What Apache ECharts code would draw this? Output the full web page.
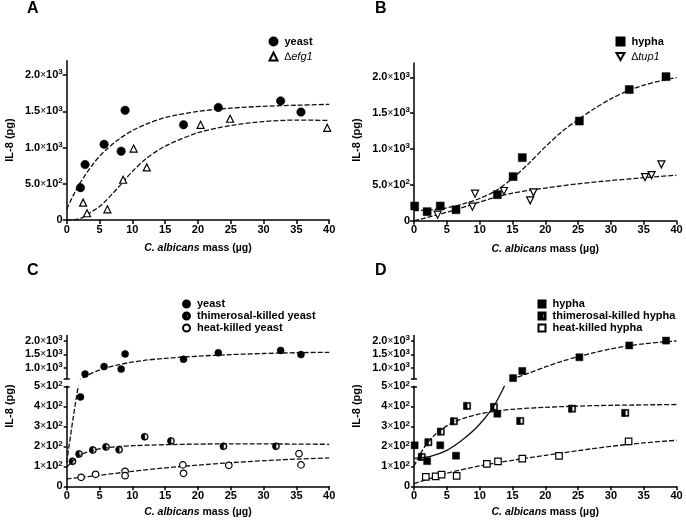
<!DOCTYPE html>
<html><head><meta charset="utf-8">
<script src="https://cdn.jsdelivr.net/npm/echarts@6/dist/echarts.min.js"></script>
<style>html,body{margin:0;padding:0;background:#fff}#c{width:686px;height:524px}</style>
</head><body><div id="c"></div>
<script>
// ---------------- data ----------------
const yTicksFull = [0, 500, 1000, 1500, 2000];
const yLabelsFull = ['0', '5.0×10^2', '1.0×10^3', '1.5×10^3', '2.0×10^3'];
const yTicksUpper = [1000, 1500, 2000];
const yLabelsUpper = ['1.0×10^3', '1.5×10^3', '2.0×10^3'];
const yTicksLower = [0, 100, 200, 300, 400, 500];
const yLabelsLower = ['0', '1×10^2', '2×10^2', '3×10^2', '4×10^2', '5×10^2'];

// Panel A / C : live yeast and ∆efg1
const yeastX = [2.1, 2.8, 5.7, 8.3, 8.9, 17.8, 23.1, 32.6, 35.7];
const yeastY = [447, 765, 1045, 950, 1515, 1315, 1555, 1645, 1490];
const efg1X = [2.5, 3.1, 6.2, 8.6, 10.2, 12.2, 20.4, 24.9, 39.7];
const efg1Y = [240, 93, 148, 556, 986, 727, 1315, 1398, 1273];

// Panel B / D : live hypha and ∆tup1
const hyphaX = [0.1, 2.0, 4.0, 6.4, 12.7, 15.1, 16.5, 25.2, 32.8, 38.4];
const hyphaY = [205, 126, 205, 153, 363, 615, 880, 1390, 1830, 2010];
const tup1X = [3.6, 8.9, 9.3, 13.7, 17.7, 18.2, 35.2, 36.2, 37.7];
const tup1Y = [84, 195, 377, 414, 284, 395, 609, 637, 786];

// Panel C : killed yeast
const tkYeastX = [0.9, 1.9, 4.0, 6.0, 8.0, 11.9, 15.9, 23.9, 31.9];
const tkYeastY = [125, 162, 182, 197, 183, 248, 227, 200, 200];
const hkYeastX = [2.2, 4.4, 8.9, 8.9, 17.7, 17.8, 24.7, 35.4, 35.7];
const hkYeastY = [45, 60, 75, 53, 107, 65, 105, 163, 107];

// Panel D : killed hypha
const tkHyphaX = [1.2, 2.2, 4.1, 6.1, 8.1, 12.2, 16.2, 24.1, 32.2];
const tkHyphaY = [147, 220, 273, 325, 402, 397, 327, 388, 367];
const hkHyphaX = [1.8, 3.3, 4.2, 6.5, 11.1, 12.8, 16.5, 22.1, 32.7];
const hkHyphaY = [47, 50, 58, 52, 112, 125, 138, 152, 225];

// fitted curves
const fitX16 = [0, 1, 2, 3, 4, 5, 6, 8, 10, 12, 15, 20, 25, 30, 35, 40];
const yeastFitA = [150, 340, 505, 645, 770, 880, 970, 1120, 1235, 1320, 1415, 1500, 1545, 1570, 1585, 1597];
const efg1FitX = [0, 1, 2, 3, 4, 5, 6, 7, 8, 9, 10, 12, 15, 20, 25, 30, 35, 40];
const efg1Fit = [0, 3, 18, 65, 125, 185, 270, 365, 465, 570, 670, 840, 1020, 1205, 1305, 1360, 1380, 1375];
const hyphaFitX = [0, 2.5, 5, 7.5, 10, 12.5, 15, 17.5, 20, 22.5, 25, 27.5, 30, 32.5, 35, 37.5, 40];
const hyphaFit = [140, 150, 180, 235, 310, 420, 590, 800, 1030, 1240, 1410, 1565, 1700, 1810, 1890, 1950, 1995];
const tup1Fit = [0, 22, 45, 68, 92, 118, 145, 200, 260, 315, 385, 455, 515, 560, 600, 635];
const yeastFitC = [120, 345, 545, 700, 815, 910, 995, 1120, 1210, 1280, 1350, 1430, 1490, 1530, 1560, 1575];
const tkYeastFitX = [0, 1, 2, 3, 4, 5, 6, 8, 10, 15, 20, 25, 30, 35, 40];
const tkYeastFit = [95, 128, 156, 170, 180, 187, 192, 199, 203, 208, 211, 212, 212, 211, 210];
const fitX9 = [0, 5, 10, 15, 20, 25, 30, 35, 40];
const hkYeastFit = [37, 55, 75, 92, 106, 118, 128, 136, 142];
const tkHyphaFit = [100, 165, 215, 252, 280, 302, 320, 345, 362, 374, 385, 395, 401, 405, 407, 409];
const hkHyphaFit = [13, 65, 102, 130, 155, 178, 200, 217, 230];

// ---------------- helpers ----------------
const FONT = '"Liberation Sans", Arial, sans-serif';
const pairs = (xs, ys) => xs.map((x, i) => [x, ys[i]]);
function supLabel(s) {
  if (s.indexOf('^') < 0) return '{n|' + s + '}';
  const parts = s.split('^');
  const base = parts[0].split('×');
  return '{n|' + base[0] + '}{x|×}{n|10}{s|' + parts[1] + '}';
}
const labelRich = {
  n: {fontSize: 11, fontWeight: 'bold', fontFamily: FONT, color: '#000', lineHeight: 14},
  x: {fontSize: 10, fontWeight: 'normal', fontFamily: FONT, color: '#000', lineHeight: 14},
  s: {fontSize: 8, fontWeight: 'bold', fontFamily: FONT, color: '#000', verticalAlign: 'top', lineHeight: 8}
};
const axLine = {show: true, lineStyle: {color: '#000', width: 1.5}};

function xAxisFor(gi, show, gap) {
  return {
    type: 'value', gridIndex: gi, min: 0, max: 40, interval: 5, show: show,
    axisLine: axLine,
    axisTick: {show: true, length: 4, lineStyle: {color: '#000', width: 1.5}},
    axisLabel: {color: '#000', fontSize: 11, fontWeight: 'bold', fontFamily: FONT, margin: 4},
    splitLine: {show: false},
    name: '{i|C. albicans} mass (µg)', nameLocation: 'middle', nameGap: gap,
    nameTextStyle: {color: '#000', fontSize: 10.5, fontWeight: 'bold', fontFamily: FONT,
      rich: {i: {fontStyle: 'italic', fontWeight: 'bold', fontSize: 10.5, fontFamily: FONT, color: '#000'}}}
  };
}
function yAxisFor(gi, min, max, ticks, labels, tickVals, tickLen) {
  return {
    type: 'value', gridIndex: gi, min: min, max: max, position: 'left',
    axisLine: axLine,
    axisTick: {show: true, length: tickLen, customValues: tickVals, lineStyle: {color: '#000', width: 1.5}},
    axisLabel: {customValues: ticks, margin: 4, rich: labelRich,
      formatter: v => { const i = ticks.indexOf(v); return i >= 0 ? supLabel(labels[i]) : ''; }},
    splitLine: {show: false}
  };
}
function capAxis(gi, min, max, v) {
  return {
    type: 'value', gridIndex: gi, min: min, max: max, position: 'left',
    axisLine: {show: false}, axisLabel: {show: false}, splitLine: {show: false},
    axisTick: {show: true, inside: true, length: 3, customValues: [v], lineStyle: {color: '#000', width: 1.5}}
  };
}
function sc(name, gi, yi, xs, ys, symbol, size, open) {
  return {
    type: 'scatter', name: name, xAxisIndex: gi, yAxisIndex: yi, data: pairs(xs, ys),
    symbol: symbol, symbolSize: size, z: 5,
    itemStyle: open ? {color: '#fff', borderColor: '#000', borderWidth: 1.2, opacity: 1}
                    : {color: '#000', borderColor: '#000', borderWidth: 0.5, opacity: 1}
  };
}
function fit(name, gi, yi, xs, ys, solid) {
  return {
    type: 'line', name: name, xAxisIndex: gi, yAxisIndex: yi, data: pairs(xs, ys),
    symbol: 'none', smooth: 0.3, clip: true, z: 2,
    lineStyle: {color: '#111', width: 1.3, type: solid ? 'solid' : [5, 2]}
  };
}
const downTri = 'path://M0,0 L10,0 L5,8.66 Z';
const halfCircle = 'path://M5,0 A5,5 0 0,1 5,10 A5,5 0 0,1 5,0 Z M5,1.3 A3.7,3.7 0 0,0 5,8.7 A3.7,3.7 0 0,0 5,1.3 Z M5,10 A5,5 0 0,1 5,0 Z';
const halfSquare = 'path://M0,0 L10,0 L10,10 L0,10 Z M1.5,1.5 L1.5,8.5 L8.5,8.5 L8.5,1.5 Z M0,0 L5,0 L5,10 L0,10 Z';

const legendBase = (data, left, top, lh, icon) => ({
  data: data, left: left, top: top, orient: 'vertical', selectedMode: false,
  itemWidth: icon, itemHeight: icon, itemGap: 0, padding: 0,
  textStyle: {color: '#000', fontSize: 11, fontWeight: 'bold', fontFamily: FONT, lineHeight: lh, padding: [0, 0, 0, 2],
    rich: {i: {fontStyle: 'italic', fontWeight: 'normal', fontSize: 11, fontFamily: FONT, color: '#000'}}},
  formatter: n => n.charAt(0) === '∆' ? '{i|' + n + '}' : n
});

const L = {A: 66.7, B: 414};
const W = 262.5;

const option = {
  animation: false,
  backgroundColor: '#fff',
  title: [
    {text: 'A', left: 27, top: 1, padding: 0, textStyle: {fontSize: 16, fontWeight: 'bold', fontFamily: FONT, color: '#000'}},
    {text: 'B', left: 375, top: 1, padding: 0, textStyle: {fontSize: 16, fontWeight: 'bold', fontFamily: FONT, color: '#000'}},
    {text: 'C', left: 27, top: 263, padding: 0, textStyle: {fontSize: 16, fontWeight: 'bold', fontFamily: FONT, color: '#000'}},
    {text: 'D', left: 375, top: 263, padding: 0, textStyle: {fontSize: 16, fontWeight: 'bold', fontFamily: FONT, color: '#000'}}
  ],
  graphic: [
    {type: 'text', x: 10, y: 140, rotation: Math.PI / 2, style: {text: 'IL-8 (pg)', fill: '#000', font: 'bold 11px ' + FONT, align: 'center', verticalAlign: 'middle'}},
    {type: 'text', x: 357, y: 140, rotation: Math.PI / 2, style: {text: 'IL-8 (pg)', fill: '#000', font: 'bold 11px ' + FONT, align: 'center', verticalAlign: 'middle'}},
    {type: 'text', x: 10, y: 406, rotation: Math.PI / 2, style: {text: 'IL-8 (pg)', fill: '#000', font: 'bold 11px ' + FONT, align: 'center', verticalAlign: 'middle'}},
    {type: 'text', x: 357, y: 406, rotation: Math.PI / 2, style: {text: 'IL-8 (pg)', fill: '#000', font: 'bold 11px ' + FONT, align: 'center', verticalAlign: 'middle'}}
  ],
  legend: [
    legendBase(['yeast', '∆efg1'], 268.5, 34, 15, 8),
    legendBase(['hypha', '∆tup1'], 615.5, 34, 15, 8),
    legendBase(['yeast', 'thimerosal-killed yeast', 'heat-killed yeast'], 182, 298, 12, 7),
    legendBase(['hypha', 'thimerosal-killed hypha', 'heat-killed hypha'], 537.5, 298, 12, 7)
  ],
  grid: [
    {left: L.A, top: 60.7, width: W, height: 159.3, outerBoundsMode: 'none'},
    {left: L.B, top: 63, width: W, height: 157.7, outerBoundsMode: 'none'},
    {left: L.A, top: 335.5, width: W, height: 43, outerBoundsMode: 'none'},
    {left: L.A, top: 386.3, width: W, height: 100, outerBoundsMode: 'none'},
    {left: L.B, top: 335.5, width: W, height: 43, outerBoundsMode: 'none'},
    {left: L.B, top: 386.3, width: W, height: 100, outerBoundsMode: 'none'}
  ],
  xAxis: [xAxisFor(0, true, 23), xAxisFor(1, true, 23), xAxisFor(2, false, 20), xAxisFor(3, true, 20), xAxisFor(4, false, 20), xAxisFor(5, true, 20)],
  yAxis: [
    yAxisFor(0, 0, 2200, yTicksFull, yLabelsFull, yTicksFull, 4),
    yAxisFor(1, 0, 2200, yTicksFull, yLabelsFull, yTicksFull, 4),
    yAxisFor(2, 600, 2200, yTicksUpper, yLabelsUpper, [600].concat(yTicksUpper), 3),
    yAxisFor(3, 0, 500, yTicksLower, yLabelsLower, yTicksLower, 3),
    yAxisFor(4, 600, 2200, yTicksUpper, yLabelsUpper, [600].concat(yTicksUpper), 3),
    yAxisFor(5, 0, 500, yTicksLower, yLabelsLower, yTicksLower, 3),
    capAxis(2, 600, 2200, 600),
    capAxis(3, 0, 500, 500),
    capAxis(4, 600, 2200, 600),
    capAxis(5, 0, 500, 500)
  ],
  series: [
    // A
    fit('fitA1', 0, 0, fitX16, yeastFitA),
    fit('fitA2', 0, 0, efg1FitX, efg1Fit),
    sc('yeast', 0, 0, yeastX, yeastY, 'circle', 8.5, false),
    sc('∆efg1', 0, 0, efg1X, efg1Y, 'triangle', 7, true),
    // B
    fit('fitB1', 1, 1, hyphaFitX, hyphaFit),
    fit('fitB2', 1, 1, fitX16, tup1Fit),
    sc('hypha', 1, 1, hyphaX, hyphaY, 'rect', 8, false),
    sc('∆tup1', 1, 1, tup1X, tup1Y, downTri, 7, true),
    // C upper
    fit('fitC1u', 2, 2, fitX16, yeastFitC),
    sc('yeast', 2, 2, yeastX, yeastY, 'circle', 7, false),
    // C lower
    fit('fitC1l', 3, 3, fitX16, yeastFitC),
    fit('fitC2', 3, 3, tkYeastFitX, tkYeastFit),
    fit('fitC3', 3, 3, fitX9, hkYeastFit),
    sc('yeast', 3, 3, yeastX, yeastY, 'circle', 7, false),
    sc('thimerosal-killed yeast', 3, 3, tkYeastX, tkYeastY, halfCircle, 7, false),
    sc('heat-killed yeast', 3, 3, hkYeastX, hkYeastY, 'circle', 6.5, true),
    // D upper
    fit('fitD1u', 4, 4, hyphaFitX, hyphaFit),
    sc('hypha', 4, 4, hyphaX, hyphaY, 'rect', 7, false),
    // D lower
    fit('fitD1l', 5, 5, hyphaFitX, hyphaFit, true),
    fit('fitD2', 5, 5, fitX16, tkHyphaFit),
    fit('fitD3', 5, 5, fitX9, hkHyphaFit),
    sc('hypha', 5, 5, hyphaX, hyphaY, 'rect', 7, false),
    sc('thimerosal-killed hypha', 5, 5, tkHyphaX, tkHyphaY, halfSquare, 7, false),
    sc('heat-killed hypha', 5, 5, hkHyphaX, hkHyphaY, 'rect', 6.5, true)
  ]
};
const chart = echarts.init(document.getElementById('c'), null, {renderer: 'canvas'});
chart.setOption(option);
</script>
</body></html>
